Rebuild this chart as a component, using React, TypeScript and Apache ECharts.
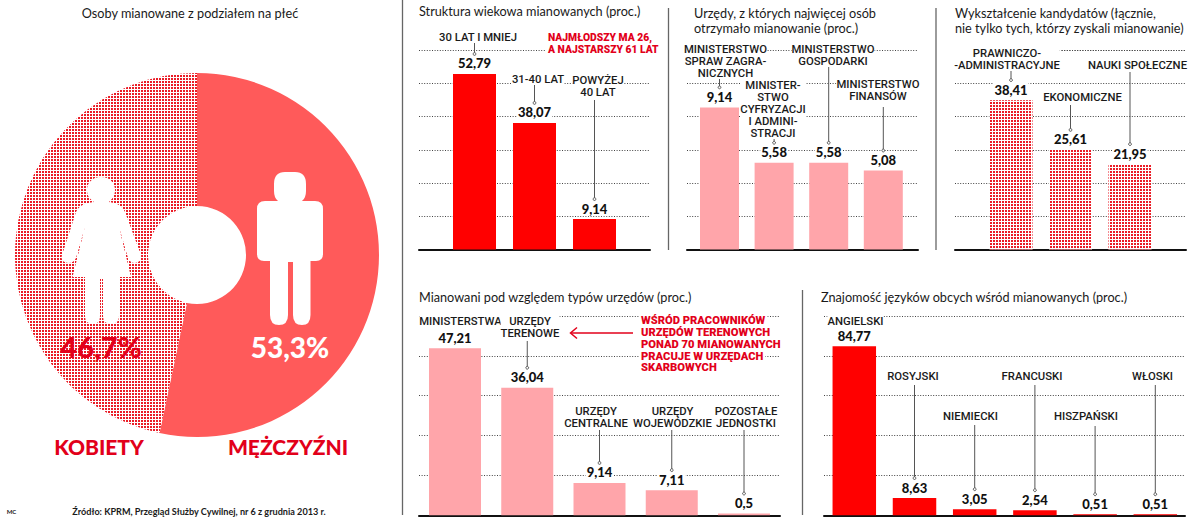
import React, { useEffect, useRef } from "react";
import * as echarts from "echarts";

// ---- data ----
const genderNames = ["Mężczyźni", "Kobiety"];
const genderValues = [53.3, 46.7];

const ageLabels = ["30 LAT I MNIEJ", "31-40 LAT", "POWYŻEJ\n40 LAT"];
const ageValues = [52.79, 38.07, 9.14];

const officeLabels = ["MINISTERSTWO\nSPRAW ZAGRA-\nNICZNYCH", "MINISTER-\nSTWO\nCYFRYZACJI\nI ADMINI-\nSTRACJI", "MINISTERSTWO\nGOSPODARKI", "MINISTERSTWO\nFINANSÓW"];
const officeValues = [9.14, 5.58, 5.58, 5.08];

const eduLabels = ["PRAWNICZO-\n-ADMINISTRACYJNE", "EKONOMICZNE", "NAUKI SPOŁECZNE"];
const eduValues = [38.41, 25.61, 21.95];

const typeLabels = ["MINISTERSTWA", "URZĘDY\nTERENOWE", "URZĘDY\nCENTRALNE", "URZĘDY\nWOJEWÓDZKIE", "POZOSTAŁE\nJEDNOSTKI"];
const typeValues = [47.21, 36.04, 9.14, 7.11, 0.5];

const langLabels = ["ANGIELSKI", "ROSYJSKI", "NIEMIECKI", "FRANCUSKI", "HISZPAŃSKI", "WŁOSKI"];
const langValues = [84.77, 8.63, 3.05, 2.54, 0.51, 0.51];

const pieTitle = "Osoby mianowane z podziałem na płeć";
const sourceText = "Źródło: KPRM, Przegląd Służby Cywilnej, nr 6 z grudnia 2013 r.";

// ---- styles and layout ----
const FONT = 'Lato, "Noto Sans", sans-serif';
const LABEL_FONT = 'Roboto, "Noto Sans", sans-serif';
const RED = "#ff0000";
const PINK = "#ffa5aa";
const SALMON = "#ff5a5a";
const TEXT_RED = "#e2001a";
const INK = "#1a1a1a";

const hatch = {
  symbol: "rect",
  symbolSize: 1,
  dashArrayX: [2, 1],
  dashArrayY: [2, 1],
  rotation: 0,
  color: "#ea1c26",
};

type Note = { x: number; y: number; lineTop: number | null };
type Panel = {
  left: number; right: number; top: number; bottom: number;
  first: number; step: number; barWidth: number; yMax: number; splits: number;
  color: string; hatched?: boolean;
  values: number[]; labels: string[]; notes: Note[];
};

const panels: Panel[] = [
  {
    left: 419, right: 650, top: 50, bottom: 249.5, first: 474.5, step: 60, barWidth: 43, yMax: 60, splits: 6, color: RED,
    values: ageValues, labels: ageLabels,
    notes: [
      { x: 478, y: 37, lineTop: 42 },
      { x: 538, y: 79, lineTop: 85 },
      { x: 598, y: 86, lineTop: 100 },
    ],
  },
  {
    left: 687, right: 918, top: 50, bottom: 249.5, first: 719.5, step: 54.6, barWidth: 39, yMax: 12.83, splits: 6, color: PINK,
    values: officeValues, labels: officeLabels,
    notes: [
      { x: 725.5, y: 61, lineTop: 79 },
      { x: 773, y: 109, lineTop: 138 },
      { x: 833, y: 55, lineTop: 66 },
      { x: 878, y: 90.5, lineTop: 107 },
    ],
  },
  {
    left: 955, right: 1186, top: 50, bottom: 249.5, first: 1011, step: 59.5, barWidth: 43, yMax: 51.3, splits: 6, color: "#ffffff", hatched: true,
    values: eduValues, labels: eduLabels,
    notes: [
      { x: 1007, y: 59, lineTop: 71 },
      { x: 1082.5, y: 97, lineTop: 105 },
      { x: 1137.5, y: 65, lineTop: 72 },
    ],
  },
  {
    left: 419, right: 780, top: 316, bottom: 515.3, first: 455, step: 72.25, barWidth: 52, yMax: 56.3, splits: 5, color: PINK,
    values: typeValues, labels: typeLabels,
    notes: [
      { x: 460.5, y: 321, lineTop: null },
      { x: 530, y: 327, lineTop: 341 },
      { x: 596, y: 417.5, lineTop: 430 },
      { x: 672.5, y: 417.5, lineTop: 430 },
      { x: 746, y: 417.5, lineTop: 430 },
    ],
  },
  {
    left: 824, right: 1185, top: 316, bottom: 515.3, first: 854.3, step: 60.2, barWidth: 43.5, yMax: 100, splits: 5, color: RED,
    values: langValues, labels: langLabels,
    notes: [
      { x: 855.5, y: 321, lineTop: null },
      { x: 913, y: 376, lineTop: 385 },
      { x: 970.5, y: 416.5, lineTop: 425 },
      { x: 1032, y: 376, lineTop: 385 },
      { x: 1086, y: 416.5, lineTop: 426 },
      { x: 1152.5, y: 376, lineTop: 385 },
    ],
  },
];

const titles: [string, number, number][] = [
  ["Struktura wiekowa mianowanych (proc.)", 419, 10.5],
  ["Urzędy, z których najwięcej osób", 694, 13],
  ["otrzymało mianowanie (proc.)", 694, 28],
  ["Wykształcenie kandydatów (łącznie,", 955, 13],
  ["nie tylko tych, którzy zyskali mianowanie)", 955, 28],
  ["Mianowani pod względem typów urzędów (proc.)", 419, 297],
  ["Znajomość języków obcych wśród mianowanych (proc.)", 821, 297],
];

const redNotes: [string, number, number, number][] = [
  ["NAJMŁODSZY MA 26,", 548, 37.5, 10.3],
  ["A NAJSTARSZY 61 LAT", 548, 49.5, 10.3],
  ["WŚRÓD PRACOWNIKÓW", 641, 320, 11.2],
  ["URZĘDÓW TERENOWYCH", 641, 332, 11.2],
  ["PONAD 70 MIANOWANYCH", 641, 344, 11.2],
  ["PRACUJE W URZĘDACH", 641, 356, 11.2],
  ["SKARBOWYCH", 641, 367, 11.2],
];

const dividers: [number, number, number][] = [
  [402.5, 0, 515],
  [668.5, 8, 250],
  [936, 8, 250],
  [802.5, 290, 515],
];

const WOMAN =
  "M101 177C110 177 115 183 115 190C115 196 112 199 109 202L114 203Q122 205 125 212L141 255Q142 262 135 263Q130 263 128 258L119 227L131 277L119 277V316Q119 324 111 324Q103 324 103 316V279H100V316Q100 324 93 324Q85 324 85 316V277H72.5L85 227L76 258Q74 263 68 263Q60 262 62 255L76 212Q79 205 88 203L94 202C90 199 87 196 87 190C87 183 92 177 101 177Z";
const MAN =
  "M285 172H295Q306 172 306 184V191Q306 198 302 201H315Q323 201 323 209V254Q323 261 316 261H310.5V315Q310.5 325 302 325Q293 325 293 315V262H288V315Q288 325 279 325Q270 325 270 315V261H264Q257 261 257 254V209Q257 201 265 201H278Q274 198 274 191V184Q274 172 285 172Z";

echarts.graphic.registerShape("woman", echarts.graphic.extendPath(WOMAN, {}) as any);
echarts.graphic.registerShape("man", echarts.graphic.extendPath(MAN, {}) as any);

const comma = (v: number) => String(v).replace(".", ",");

function txt(text: string, x: number, y: number, font: string, fill: string, align = "center", bg?: string) {
  return {
    type: "text",
    z: 10,
    style: {
      text, x, y, font, fill,
      textAlign: align, align,
      textVerticalAlign: "middle", verticalAlign: "middle",
      ...(bg ? { backgroundColor: bg, padding: [0, 2] } : {}),
    },
  };
}

function buildOption() {
  const grids: any[] = [];
  const xAxes: any[] = [];
  const yAxes: any[] = [];
  const series: any[] = [];

  panels.forEach((p, idx) => {
    grids.push({ left: p.left, top: p.top, width: p.right - p.left, height: p.bottom - p.top, containLabel: false });
    xAxes.push({
      type: "value", gridIndex: idx,
      min: (p.left - p.first) / p.step,
      max: (p.right - p.first) / p.step,
      axisLine: { show: true, onZero: false, lineStyle: { color: "#111", width: 2 } },
      axisTick: { show: false }, axisLabel: { show: false }, splitLine: { show: false },
    });
    yAxes.push({
      type: "value", gridIndex: idx, min: 0, max: p.yMax, interval: p.yMax / p.splits,
      axisLine: { show: false }, axisTick: { show: false }, axisLabel: { show: false },
      splitLine: { show: true, lineStyle: { color: "#444", width: 1, type: [1, 1.6] } },
    });
    series.push({
      type: "bar", xAxisIndex: idx, yAxisIndex: idx, barWidth: p.barWidth, z: 2, silent: true,
      data: p.values.map((v, i) => [i, v]),
      itemStyle: { color: p.color, ...(p.hatched ? { decal: hatch } : {}) },
      label: {
        show: true, position: "top", distance: 3,
        formatter: (q: any) => comma(q.value[1]),
        fontFamily: FONT, fontWeight: 900, fontSize: 13, color: "#111",
        backgroundColor: "#fff", padding: [0, 1], lineHeight: 15,
      },
    });
    series.push({
      type: "custom", xAxisIndex: idx, yAxisIndex: idx, z: 3, silent: true, clip: false,
      data: p.values.map((v, i) => [i, v]),
      encode: { x: 0, y: 1 },
      renderItem: (params: any, api: any) => {
        const i = params.dataIndex;
        const n = p.notes[i];
        const pt = api.coord([api.value(0), api.value(1)]);
        const children: any[] = [];
        if (n.lineTop !== null) {
          const end = pt[1] - 20;
          children.push({
            type: "line",
            shape: { x1: pt[0], y1: n.lineTop, x2: pt[0], y2: end },
            style: { stroke: "#555", lineWidth: 1 },
          });
          children.push({
            type: "circle",
            shape: { cx: pt[0], cy: end, r: 1.4 },
            style: { fill: "#fff", stroke: "#555", lineWidth: 1 },
          });
        }
        children.push({
          type: "text",
          style: {
            text: p.labels[i], x: n.x, y: n.y,
            font: `500 11.3px ${LABEL_FONT}`, fill: INK, lineHeight: 12,
            textAlign: "center", align: "center",
            textVerticalAlign: "middle", verticalAlign: "middle",
            backgroundColor: "#fff",
          },
        });
        return { type: "group", children };
      },
    });
  });

  // pie
  series.push({
    type: "pie", center: [197, 255], radius: [49, 182], startAngle: 90, clockwise: true, silent: true,
    label: { show: false }, labelLine: { show: false },
    emphasis: { disabled: true },
    data: [
      { name: genderNames[0], value: genderValues[0], itemStyle: { color: SALMON } },
      { name: genderNames[1], value: genderValues[1], itemStyle: { color: "#ffffff", decal: hatch } },
    ],
  });

  const graphics: any[] = [
    { type: "woman", x: 0, y: 0, z: 9, style: { fill: "#fff" } },
    { type: "man", x: 0, y: 0, z: 9, style: { fill: "#fff" } },
    txt(pieTitle, 190, 13, `12.7px ${FONT}`, INK),
    txt(`${comma(genderValues[1])}%`, 101, 346, `900 29px ${FONT}`, TEXT_RED),
    txt(`${comma(genderValues[0])}%`, 290, 347, `900 28px ${FONT}`, "#fff"),
    txt(genderNames[1].toUpperCase(), 99, 446, `900 21px ${FONT}`, TEXT_RED),
    txt(genderNames[0].toUpperCase(), 288, 446, `900 21px ${FONT}`, TEXT_RED),
    txt(sourceText, 199, 511, `700 9.1px ${FONT}`, INK),
    txt("MC", 11.5, 511, `700 6px ${FONT}`, INK),
    ...titles.map(([t, x, y]) => txt(t, x, y, `12.7px ${FONT}`, INK, "left")),
    ...redNotes.map(([t, x, y, s]) => txt(t, x - 2, y, `900 ${s}px ${LABEL_FONT}`, TEXT_RED, "left", "#fff")),
    ...dividers.map(([x, y1, y2]) => ({
      type: "line", z: 1,
      shape: { x1: x, y1, x2: x, y2 },
      style: { stroke: "#666", lineWidth: 1.3 },
    })),
    { type: "line", z: 10, shape: { x1: 571, y1: 333, x2: 633, y2: 333 }, style: { stroke: TEXT_RED, lineWidth: 1.5 } },
    {
      type: "polyline", z: 10,
      shape: { points: [[577, 327.5], [570.5, 333], [577, 338.5]] },
      style: { stroke: TEXT_RED, lineWidth: 1.5, fill: "none" },
    },
  ];

  return {
    animation: false,
    backgroundColor: "#fff",
    grid: grids,
    xAxis: xAxes,
    yAxis: yAxes,
    series,
    graphic: { elements: graphics },
  };
}

export default function App() {
  const ref = useRef<HTMLDivElement>(null);
  useEffect(() => {
    const chart = echarts.init(ref.current!, undefined, { renderer: "svg" });
    chart.setOption(buildOption() as any);
    return () => chart.dispose();
  }, []);
  return <div ref={ref} style={{ position: "fixed", left: 0, top: 0, width: 1200, height: 523 }} />;
}
